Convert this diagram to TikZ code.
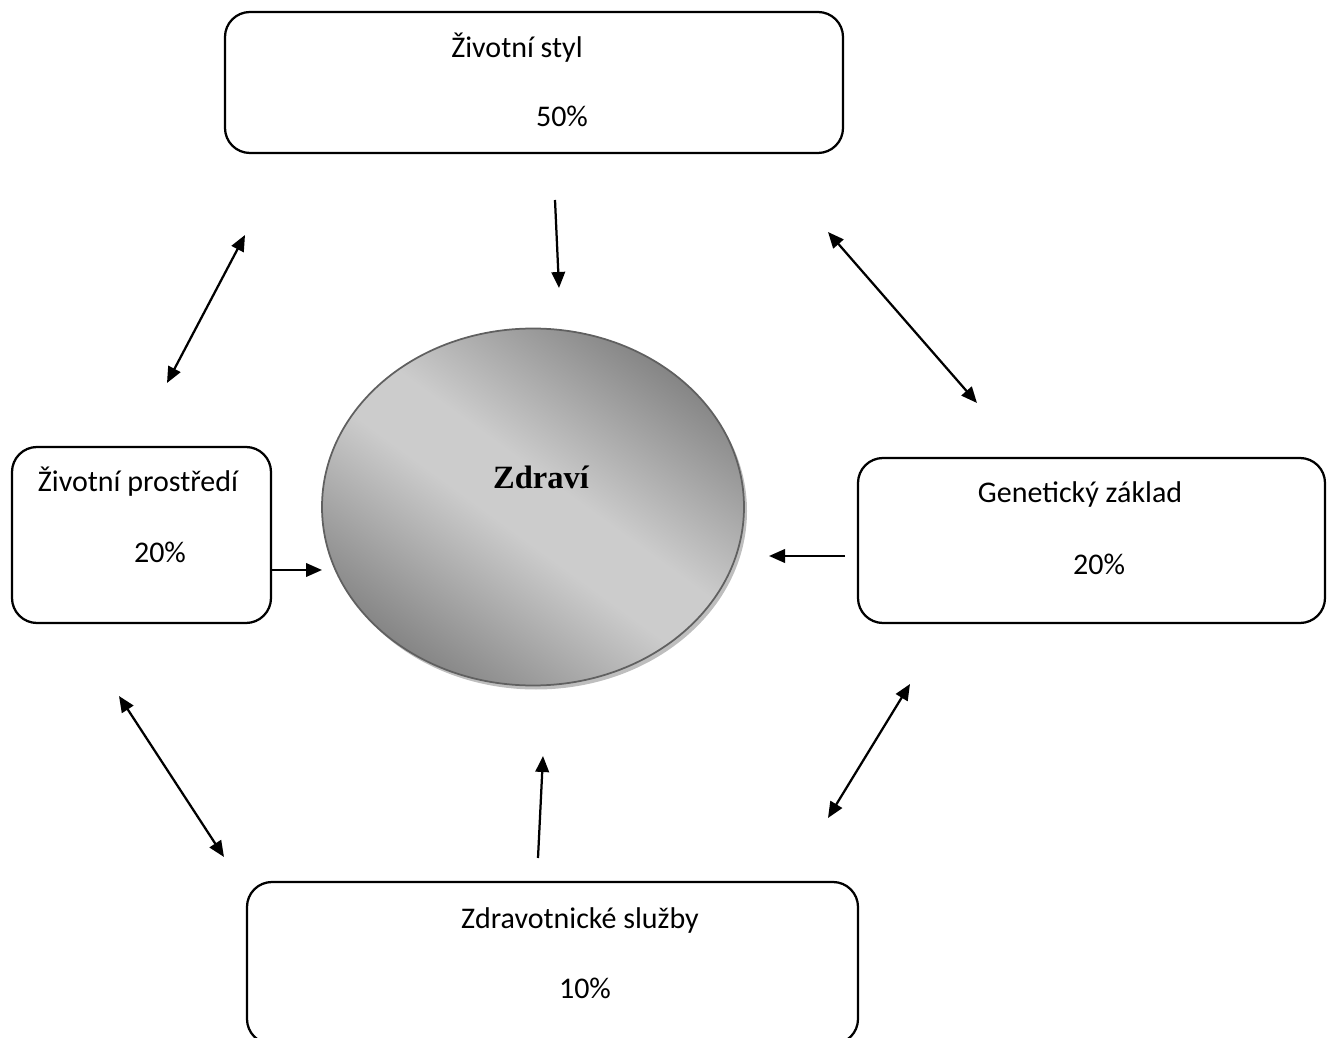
\documentclass[tikz,border=0pt]{standalone}
\usepackage{fontspec}
\setmainfont{Carlito}
\newfontfamily\serifbold{Liberation Serif}
\usetikzlibrary{shapes.geometric,arrows.meta}
\definecolor{elldark}{RGB}{122,122,122}
\definecolor{elllight}{RGB}{204,204,204}
\definecolor{ellborder}{RGB}{96,96,96}
\definecolor{ellshadow}{RGB}{190,190,190}
\pgfdeclareverticalshading{ellshade}{100bp}{color(0bp)=(elldark); color(22bp)=(elldark); color(46bp)=(elllight); color(54bp)=(elllight); color(78bp)=(elldark); color(100bp)=(elldark)}
\begin{document}
\begin{tikzpicture}[x=0.4pt,y=-0.4pt,
  factorbox/.style={draw=black,line width=0.9pt,rounded corners=10pt,inner sep=0pt},
  lbl/.style={font=\fontsize{12}{14}\selectfont,inner sep=0pt,anchor=center},
  conn/.style={line width=0.9pt,-{Triangle[length=6.4pt,width=5.4pt]}},
  dconn/.style={line width=0.9pt,{Triangle[length=6.4pt,width=5.4pt]}-{Triangle[length=6.4pt,width=5.4pt]}}]
\useasboundingbox (0,0) rectangle (1334,1038);
% boxes
\node[factorbox,minimum width=247.2pt,minimum height=56.4pt] (styl) at (534,82.5) {};
\node[factorbox,minimum width=103.6pt,minimum height=70.4pt] (prost) at (141.5,535) {};
\node[factorbox,minimum width=186.8pt,minimum height=66pt] (gen) at (1091.5,540.5) {};
\node[factorbox,minimum width=244.4pt,minimum height=64.8pt] (sluz) at (552.5,963) {};
% texts
\node[lbl] (t1) at (517,48) {Životní styl};
\node[lbl] (t2) at (562,116) {50\%};
\node[lbl] (t3) at (138,482) {Životní prostředí};
\node[lbl] (t4) at (160,552) {20\%};
\node[lbl] (t5) at (1080,495) {Genetický základ};
\node[lbl] (t6) at (1099,564) {20\%};
\node[lbl] (t7) at (580,920) {Zdravotnické služby};
\node[lbl] (t8) at (585,988) {10\%};
% ellipse
\node[ellipse,fill=ellshadow,draw=none,minimum width=168.8pt,minimum height=142.8pt,inner sep=0pt] (shad) at (536,511) {};
\node[ellipse,draw=ellborder,line width=0.7pt,shading=ellshade,shading angle=-36,
  minimum width=168.8pt,minimum height=142.8pt,inner sep=0pt] (health) at (533,507) {};
\node[font=\serifbold\bfseries\fontsize{13}{15}\selectfont,inner sep=0pt] (tz) at (541,477) {Zdraví};
% connector end points
\coordinate (a1s) at (555,200); \coordinate (a1e) at (559,288);
\coordinate (a2s) at (245,235); \coordinate (a2e) at (167,383);
\coordinate (a3s) at (828,232); \coordinate (a3e) at (977,403);
\coordinate (a4s) at (prost.east |- 0,570); \coordinate (a4e) at (322,570);
\coordinate (a5s) at (845,556); \coordinate (a5e) at (769,556);
\coordinate (a6s) at (119,696); \coordinate (a6e) at (224,857);
\coordinate (a7s) at (538,858); \coordinate (a7e) at (543,756);
\coordinate (a8s) at (910,684); \coordinate (a8e) at (828,818);
\draw[conn] (a1s) -- (a1e);
\draw[dconn] (a2s) -- (a2e);
\draw[dconn] (a3s) -- (a3e);
\draw[conn] (a4s) -- (a4e);
\draw[conn] (a5s) -- (a5e);
\draw[dconn] (a6s) -- (a6e);
\draw[conn] (a7s) -- (a7e);
\draw[dconn] (a8s) -- (a8e);
\end{tikzpicture}
\end{document}
